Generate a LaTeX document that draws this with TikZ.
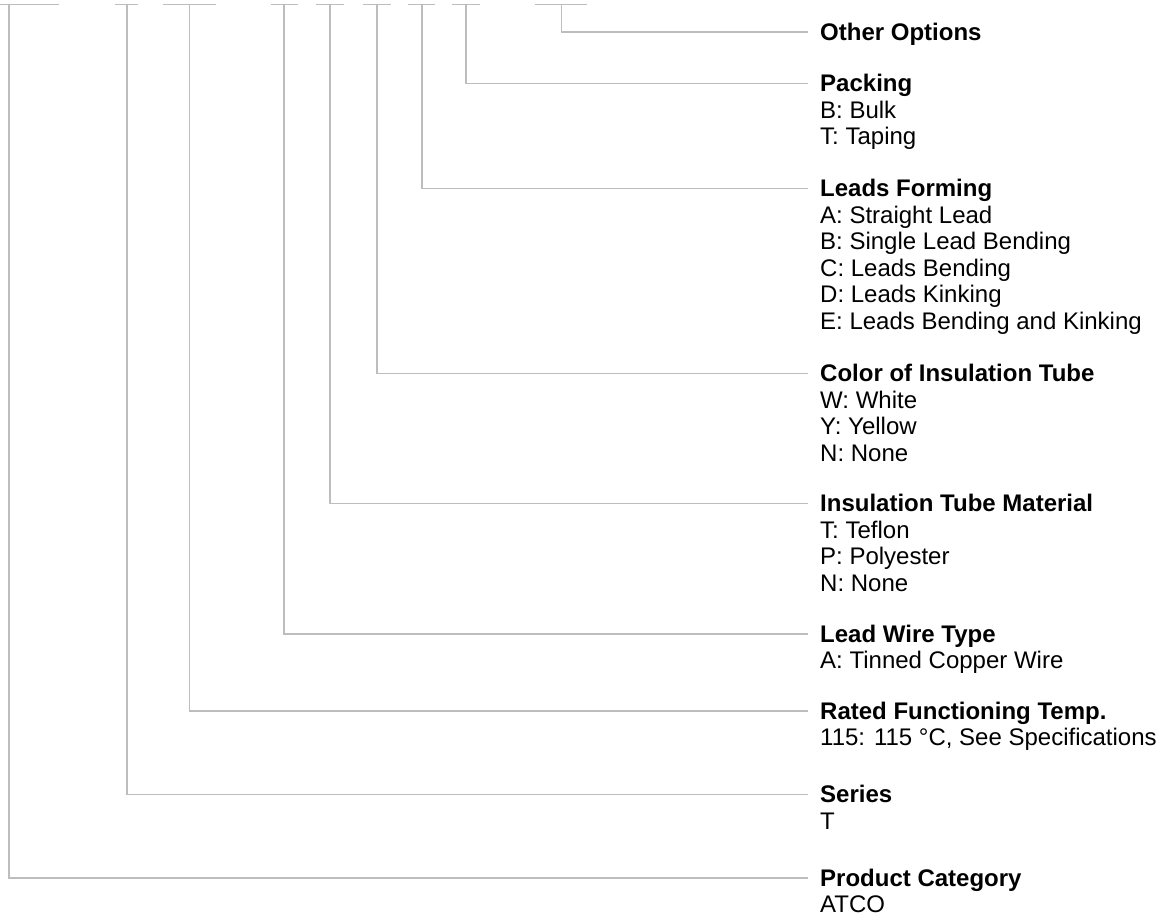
\documentclass[tikz,border=0pt]{standalone}
\usepackage{fontspec}
\setmainfont{Liberation Sans}
\usetikzlibrary{calc}
\definecolor{linegray}{HTML}{BDBDBD}
\begin{document}
\begin{tikzpicture}[x=1pt,y=-1pt,
  conn/.style={draw=linegray,line width=1.6pt},
  ttl/.style={anchor=base west,inner sep=0pt,font=\fontsize{24}{26.5}\selectfont\bfseries},
  itm/.style={anchor=base west,inner sep=0pt,font=\fontsize{24}{26.5}\selectfont}]
\useasboundingbox (0,0) rectangle (1161,921);
% top bars: left end, right end, connector start
\coordinate (b9l) at (534.6,4.5); \coordinate (b9r) at (587,4.5); \coordinate (b9) at (561.3,4.5);
\coordinate (b8l) at (452,4.5);   \coordinate (b8r) at (479.5,4.5); \coordinate (b8) at (465.7,4.5);
\coordinate (b7l) at (408,4.5);   \coordinate (b7r) at (435,4.5); \coordinate (b7) at (421.7,4.5);
\coordinate (b6l) at (363,4.5);   \coordinate (b6r) at (390.7,4.5); \coordinate (b6) at (377,4.5);
\coordinate (b5l) at (316,4.5);   \coordinate (b5r) at (343.7,4.5); \coordinate (b5) at (330,4.5);
\coordinate (b4l) at (270.6,4.5); \coordinate (b4r) at (298,4.5); \coordinate (b4) at (284,4.5);
\coordinate (b3l) at (163,4.5);   \coordinate (b3r) at (216,4.5); \coordinate (b3) at (189.4,4.5);
\coordinate (b2l) at (115,4.5);   \coordinate (b2r) at (138,4.5); \coordinate (b2) at (126.7,4.5);
\coordinate (b1l) at (0,4.5);     \coordinate (b1r) at (58.5,4.5); \coordinate (b1) at (8.7,4.5);
% connector ends
\coordinate (e9) at (808,31.7);
\coordinate (e8) at (808,83.3);
\coordinate (e7) at (808,188.3);
\coordinate (e6) at (808,373.3);
\coordinate (e5) at (808,503.3);
\coordinate (e4) at (808,634);
\coordinate (e3) at (808,710.7);
\coordinate (e2) at (808,794.3);
\coordinate (e1) at (808,877.7);
% titles
\node[ttl] (t9) at ($(e9)+(12,8.4)$) {Other Options};
\node[ttl] (t8) at ($(e8)+(12,8.4)$) {Packing};
\node[ttl] (t7) at ($(e7)+(12,8.4)$) {Leads Forming};
\node[ttl] (t6) at ($(e6)+(12,8.4)$) {Color of Insulation Tube};
\node[ttl] (t5) at ($(e5)+(12,8.4)$) {Insulation Tube Material};
\node[ttl] (t4) at ($(e4)+(12,8.4)$) {Lead Wire Type};
\node[ttl] (t3) at ($(e3)+(12,8.4)$) {Rated Functioning Temp.};
\node[ttl] (t2) at ($(e2)+(12,8.4)$) {Series};
\node[ttl] (t1) at ($(e1)+(12,8.4)$) {Product Category};
% items
\node[itm] (i8a) at ($(t8.base west)+(0,26.5)$) {B: Bulk};
\node[itm] (i8b) at ($(i8a.base west)+(0,26.5)$) {T: Taping};
\node[itm] (i7a) at ($(t7.base west)+(0,26.5)$) {A: Straight Lead};
\node[itm] (i7b) at ($(i7a.base west)+(0,26.5)$) {B: Single Lead Bending};
\node[itm] (i7c) at ($(i7b.base west)+(0,26.5)$) {C: Leads Bending};
\node[itm] (i7d) at ($(i7c.base west)+(0,26.5)$) {D: Leads Kinking};
\node[itm] (i7e) at ($(i7d.base west)+(0,26.5)$) {E: Leads Bending and Kinking};
\node[itm] (i6a) at ($(t6.base west)+(0,26.5)$) {W: White};
\node[itm] (i6b) at ($(i6a.base west)+(0,26.5)$) {Y: Yellow};
\node[itm] (i6c) at ($(i6b.base west)+(0,26.5)$) {N: None};
\node[itm] (i5a) at ($(t5.base west)+(0,26.5)$) {T: Teflon};
\node[itm] (i5b) at ($(i5a.base west)+(0,26.5)$) {P: Polyester};
\node[itm] (i5c) at ($(i5b.base west)+(0,26.5)$) {N: None};
\node[itm] (i4a) at ($(t4.base west)+(0,26.5)$) {A: Tinned Copper Wire};
\node[itm] (i3a) at ($(t3.base west)+(0,26.5)$) {115: 115 °C, See Specifications};
\node[itm] (i2a) at ($(t2.base west)+(0,26.5)$) {T};
\node[itm] (i1a) at ($(t1.base west)+(0,26.5)$) {ATCO};
% bars and connectors
\foreach \k in {1,...,9}{
  \draw[conn] (b\k l) -- (b\k r);
  \draw[conn] (b\k) |- (e\k);
}
\end{tikzpicture}
\end{document}
